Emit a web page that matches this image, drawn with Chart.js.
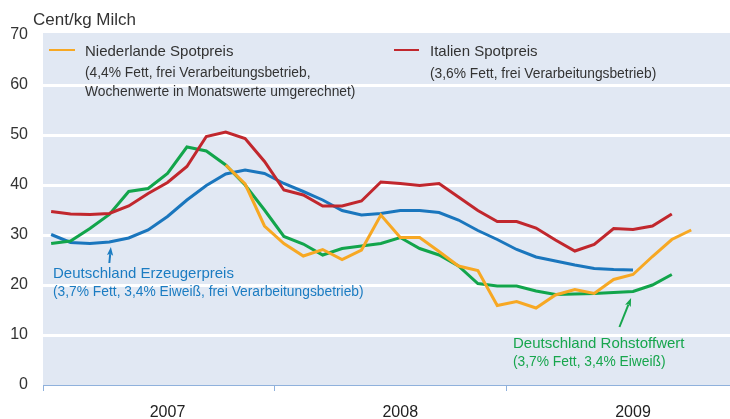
<!DOCTYPE html>
<html>
<head>
<meta charset="utf-8">
<script src="https://cdn.jsdelivr.net/npm/chart.js@4"></script>
<style>
  body { margin: 0; background: #fff; }
  #wrap { width: 730px; height: 419px; position: relative; }
</style>
</head>
<body>
<div id="wrap"><canvas id="milchChart"></canvas></div>
<script>
// Monatswerte ab Januar 2007 (Index 0 = Jan 2007)
const years = ['2007', '2008', '2009'];
const yTicks = [0, 10, 20, 30, 40, 50, 60, 70];

// Italien Spotpreis, Jan 2007 - Sep 2009
const italien = [34.7, 34.2, 34.1, 34.3, 35.8, 38.3, 40.5, 43.7, 49.7, 50.6, 49.3, 44.7,
  39.0, 38.0, 35.8, 35.8, 36.8, 40.6, 40.3, 39.9, 40.3, 37.6, 34.9, 32.7,
  32.7, 31.4, 29.0, 26.8, 28.1, 31.3, 31.1, 31.8, 34.2];

// Deutschland Erzeugerpreis, Jan 2007 - Jul 2009
const erzeuger = [30.1, 28.5, 28.3, 28.6, 29.4, 31.0, 33.7, 37.0, 39.9, 42.2, 43.0, 42.3,
  40.3, 38.7, 37.0, 34.9, 34.0, 34.3, 34.9, 34.9, 34.5, 33.0, 30.9, 29.1,
  27.1, 25.6, 24.8, 24.0, 23.3, 23.1, 23.0];

// Deutschland Rohstoffwert, Jan 2007 - Sep 2009
const rohstoff = [28.3, 28.8, 31.3, 34.1, 38.7, 39.3, 42.3, 47.6, 46.8, 44.0, 40.0, 35.0,
  29.7, 28.2, 26.0, 27.3, 27.8, 28.3, 29.5, 27.3, 26.0, 23.8, 20.3, 19.8,
  19.8, 18.8, 18.1, 18.2, 18.3, 18.5, 18.7, 20.0, 22.1];

// Niederlande Spotpreis, ab Okt 2007 bis Okt 2009
const niederlandeStart = 9;
const niederlande = [44.0, 40.2, 31.8,
  28.3, 25.8, 27.1, 25.1, 27.0, 34.0, 29.5, 29.5, 26.7, 23.8, 22.9, 15.9,
  16.7, 15.4, 18.0, 19.1, 18.3, 21.1, 22.1, 25.7, 29.1, 31.0];

const xMin = -0.42;
const xMax = 35.0;
const dividers = [xMin, 11.5, 23.5];
const labelPos = [6, 18, 30];

function toPoints(arr, start) {
  return arr.map(function(v, i) { return { x: i + (start || 0), y: v }; });
}

const FONT = '"Liberation Sans", Arial, sans-serif';

const plotBg = {
  id: 'plotBg',
  beforeDraw: function(chart) {
    const a = chart.chartArea;
    const ctx = chart.ctx;
    ctx.save();
    ctx.fillStyle = '#e1e8f3';
    ctx.fillRect(a.left, a.top - 2, a.right - a.left, a.bottom - a.top + 2);
    ctx.restore();
  }
};

function arrow(ctx, x1, y1, x2, y2, color) {
  const ang = Math.atan2(y2 - y1, x2 - x1);
  const head = 9;
  ctx.strokeStyle = color;
  ctx.fillStyle = color;
  ctx.lineWidth = 2;
  ctx.beginPath();
  ctx.moveTo(x1, y1);
  ctx.lineTo(x2 - Math.cos(ang) * head * 0.8, y2 - Math.sin(ang) * head * 0.8);
  ctx.stroke();
  ctx.beginPath();
  ctx.moveTo(x2, y2);
  ctx.lineTo(x2 - head * Math.cos(ang - 0.35), y2 - head * Math.sin(ang - 0.35));
  ctx.lineTo(x2 - head * 0.75 * Math.cos(ang), y2 - head * 0.75 * Math.sin(ang));
  ctx.lineTo(x2 - head * Math.cos(ang + 0.35), y2 - head * Math.sin(ang + 0.35));
  ctx.closePath();
  ctx.fill();
}

const annotations = {
  id: 'annotations',
  afterDraw: function(chart) {
    const ctx = chart.ctx;
    const xs = chart.scales.x;
    const ys = chart.scales.y;
    ctx.save();
    ctx.textBaseline = 'middle';
    ctx.textAlign = 'left';

    // Einheit
    ctx.fillStyle = '#333333';
    ctx.font = '17px ' + FONT;
    ctx.fillText('Cent/kg Milch', 33, 20);

    // Legende oben
    ctx.lineWidth = 2;
    ctx.strokeStyle = '#f7a823';
    ctx.beginPath(); ctx.moveTo(49, 50); ctx.lineTo(75, 50); ctx.stroke();
    ctx.strokeStyle = '#c1272d';
    ctx.beginPath(); ctx.moveTo(394, 50); ctx.lineTo(419, 50); ctx.stroke();

    ctx.fillStyle = '#333333';
    ctx.font = '15px ' + FONT;
    ctx.fillText('Niederlande Spotpreis', 85, 52);
    ctx.fillText('Italien Spotpreis', 430, 52);
    ctx.font = '13.8px ' + FONT;
    ctx.fillText('(4,4% Fett, frei Verarbeitungsbetrieb,', 85, 73);
    ctx.fillText('Wochenwerte in Monatswerte umgerechnet)', 85, 92);
    ctx.fillText('(3,6% Fett, frei Verarbeitungsbetrieb)', 430, 74);

    // Deutschland Erzeugerpreis
    ctx.fillStyle = '#1b7cc2';
    ctx.font = '15px ' + FONT;
    ctx.fillText('Deutschland Erzeugerpreis', 53, 274);
    ctx.font = '13.8px ' + FONT;
    ctx.fillText('(3,7% Fett, 3,4% Eiweiß, frei Verarbeitungsbetrieb)', 53, 292);
    arrow(ctx, xs.getPixelForValue(3.0), ys.getPixelForValue(24.4),
      xs.getPixelForValue(3.08), ys.getPixelForValue(27.6), '#1b7cc2');

    // Deutschland Rohstoffwert
    ctx.fillStyle = '#17a64d';
    ctx.font = '15px ' + FONT;
    ctx.fillText('Deutschland Rohstoffwert', 513, 344);
    ctx.font = '13.8px ' + FONT;
    ctx.fillText('(3,7% Fett, 3,4% Eiweiß)', 513, 362);
    arrow(ctx, xs.getPixelForValue(29.3), ys.getPixelForValue(11.6),
      xs.getPixelForValue(29.9), ys.getPixelForValue(17.4), '#17a64d');

    ctx.restore();
  }
};

function lineSet(label, data, color) {
  return {
    label: label,
    data: data,
    borderColor: color,
    backgroundColor: color,
    borderWidth: 3,
    pointRadius: 0,
    tension: 0,
    fill: false
  };
}

new Chart(document.getElementById('milchChart'), {
  type: 'line',
  data: {
    datasets: [
      lineSet('Niederlande Spotpreis', toPoints(niederlande, niederlandeStart), '#f7a823'),
      lineSet('Italien Spotpreis', toPoints(italien), '#c1272d'),
      lineSet('Deutschland Rohstoffwert', toPoints(rohstoff), '#12a54b'),
      lineSet('Deutschland Erzeugerpreis', toPoints(erzeuger), '#1a76bd')
    ]
  },
  options: {
    responsive: true,
    maintainAspectRatio: false,
    animation: false,
    layout: { padding: { top: 35, right: 0, left: 0, bottom: 0 } },
    plugins: {
      legend: { display: false },
      tooltip: { enabled: false }
    },
    scales: {
      x: {
        type: 'linear',
        min: xMin,
        max: xMax,
        afterFit: function(scale) { scale.height = 34; },
        afterBuildTicks: function(scale) {
          scale.ticks = dividers.concat(labelPos).sort(function(a, b) { return a - b; })
            .map(function(v) { return { value: v }; });
        },
        border: { display: true, color: '#8fb1dc', width: 1 },
        grid: {
          drawOnChartArea: false,
          drawTicks: true,
          tickLength: 6,
          tickWidth: 1,
          color: function(c) {
            return labelPos.indexOf(c.tick && c.tick.value) >= 0 ? 'rgba(0,0,0,0)' : '#8fb1dc';
          }
        },
        ticks: {
          autoSkip: false,
          maxRotation: 0,
          padding: 12,
          color: '#222222',
          font: { family: FONT, size: 16 },
          callback: function(v) {
            const k = labelPos.indexOf(v);
            return k >= 0 ? years[k] : '';
          }
        }
      },
      y: {
        min: 0,
        max: 70,
        afterFit: function(scale) { scale.width = 43; },
        afterBuildTicks: function(scale) {
          scale.ticks = yTicks.map(function(v) { return { value: v }; });
        },
        border: { display: false },
        grid: {
          drawTicks: false,
          lineWidth: 3,
          color: function(c) {
            const v = c.tick && c.tick.value;
            return (v === 0 || v === 70) ? 'rgba(0,0,0,0)' : '#ffffff';
          }
        },
        ticks: {
          padding: 15,
          color: '#333333',
          font: { family: FONT, size: 16 }
        }
      }
    }
  },
  plugins: [plotBg, annotations]
});
</script>
</body>
</html>
